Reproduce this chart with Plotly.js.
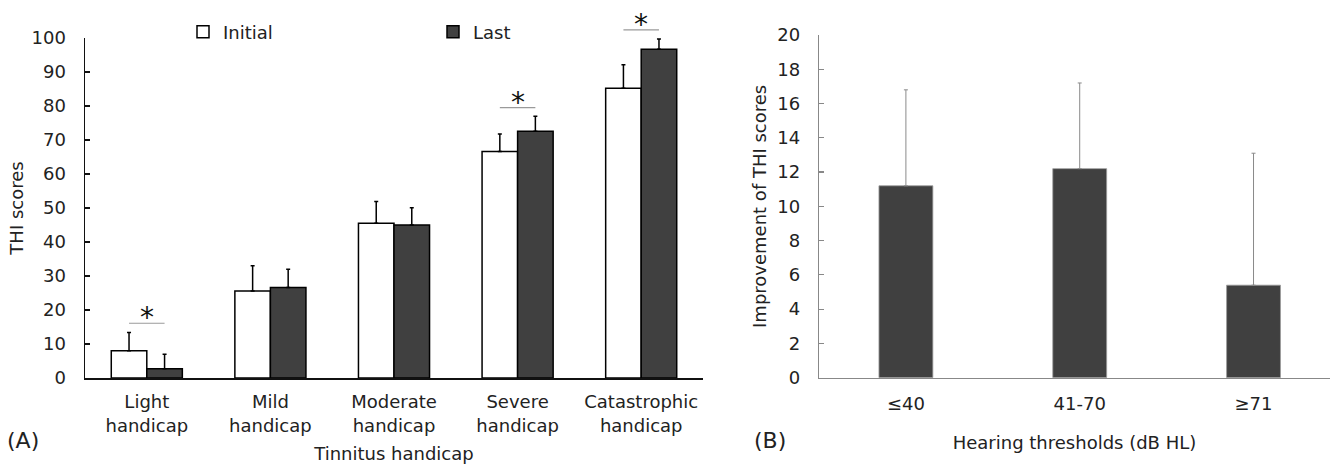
<!DOCTYPE html>
<html><head><meta charset="utf-8">
<script src="https://cdn.plot.ly/plotly-3.0.1.min.js"></script>
<style>html,body{margin:0;padding:0;background:#fff}</style>
</head><body><div id="chart" style="width:1330px;height:464px"></div>
<script>
const handicapCats = ['Light<br>handicap','Mild<br>handicap','Moderate<br>handicap','Severe<br>handicap','Catastrophic<br>handicap'];
const initialScores = [8.0, 25.6, 45.5, 66.6, 85.2];
const initialErr = [5.4, 7.4, 6.4, 5.2, 6.9];
const lastScores = [2.7, 26.6, 45.0, 72.6, 96.7];
const lastErr = [4.3, 5.4, 5.1, 4.4, 3.0];
const noMinus5 = [0, 0, 0, 0, 0];
const sigLevel = [16.1, null, null, 79.5, 102.4];
const hearingCats = ['≤40', '41-70', '≥71'];
const improvement = [11.2, 12.2, 5.4];
const improvementErr = [5.6, 5.0, 7.7];
const noMinus3 = [0, 0, 0];

const W = 1330, H = 464;
const FONT = 'DejaVu Sans, sans-serif';
const TXT = '#222';
const bargap = 0.425;
const yDomA = [(H - 378) / H, (H - 38) / H];
const yRangeA = [0, 100];
const yDomB = [(H - 377.7) / H, (H - 35) / H];

function yPaperA(v) {
  return yDomA[0] + (v - yRangeA[0]) / (yRangeA[1] - yRangeA[0]) * (yDomA[1] - yDomA[0]);
}

const traces = [
  {type: 'bar', name: 'Initial', x: handicapCats, y: initialScores, xaxis: 'x', yaxis: 'y',
   marker: {color: '#ffffff', line: {color: '#000', width: 1.5}},
   error_y: {type: 'data', array: initialErr, arrayminus: noMinus5, symmetric: false, color: '#000', thickness: 1.5, width: 2}},
  {type: 'bar', name: 'Last', x: handicapCats, y: lastScores, xaxis: 'x', yaxis: 'y',
   marker: {color: '#404040', line: {color: '#000', width: 1.5}},
   error_y: {type: 'data', array: lastErr, arrayminus: noMinus5, symmetric: false, color: '#000', thickness: 1.5, width: 2}},
  {type: 'bar', name: 'Improvement', x: hearingCats, y: improvement, xaxis: 'x2', yaxis: 'y2', width: 0.31, showlegend: false,
   marker: {color: '#404040', line: {color: '#9a9a9a', width: 0.8}},
   error_y: {type: 'data', array: improvementErr, arrayminus: noMinus3, symmetric: false, color: '#8a8a8a', thickness: 1, width: 2}}
];

const off = (1 - bargap) / 4;
const shapes = [];
const annotations = [];
sigLevel.forEach((v, i) => {
  if (v === null) return;
  shapes.push({type: 'line', xref: 'x', yref: 'paper', x0: i - off, x1: i + off, y0: yPaperA(v), y1: yPaperA(v),
    line: {color: '#9a9a9a', width: 1.2}});
  annotations.push({xref: 'x', yref: 'paper', x: i, y: yPaperA(v), text: '*', showarrow: false,
    yanchor: 'bottom', yshift: -13, font: {size: 28, color: '#111', family: FONT}});
});
annotations.push({xref: 'paper', yref: 'paper', x: 5 / W, y: (H - 440) / H, xanchor: 'left', yanchor: 'middle',
  text: '(A)', showarrow: false, font: {size: 22, color: TXT, family: FONT}});
annotations.push({xref: 'paper', yref: 'paper', x: 752 / W, y: (H - 440) / H, xanchor: 'left', yanchor: 'middle',
  text: '(B)', showarrow: false, font: {size: 22, color: TXT, family: FONT}});

const layout = {
  width: W, height: H,
  margin: {l: 0, r: 0, t: 0, b: 0},
  paper_bgcolor: '#fff', plot_bgcolor: '#fff',
  font: {family: FONT, size: 18, color: TXT},
  barmode: 'group', bargap: bargap, bargroupgap: 0,
  showlegend: true,
  legend: {orientation: 'h', x: 183 / W, xanchor: 'left', y: (H - 32) / H, yanchor: 'middle',
    entrywidth: 205, entrywidthmode: 'pixels', bgcolor: 'rgba(0,0,0,0)', font: {size: 18, color: TXT}},
  xaxis: {domain: [85 / W, 703 / W], anchor: 'y', type: 'category', range: [-0.5, 4.5],
    showline: true, linecolor: '#111', linewidth: 1.5, ticks: '', showgrid: false, zeroline: false,
    ticklabelstandoff: 7, tickfont: {size: 18}, title: {text: 'Tinnitus handicap', standoff: 20, font: {size: 18}}},
  yaxis: {domain: yDomA, anchor: 'x', range: yRangeA, dtick: 10, ticks: 'inside', ticklen: 5, tickwidth: 1.5,
    tickcolor: '#111', showline: true, linecolor: '#111', linewidth: 1.5, showgrid: false, zeroline: false,
    ticklabelstandoff: 14, tickfont: {size: 18}, title: {text: 'THI scores', standoff: 3, font: {size: 18}}},
  xaxis2: {domain: [819 / W, 1], anchor: 'y2', type: 'category', range: [-0.5, 2.44],
    showline: true, linecolor: '#888', linewidth: 1.2, ticks: '', showgrid: false, zeroline: false,
    ticklabelstandoff: 9, tickfont: {size: 18}, title: {text: 'Hearing thresholds (dB HL)', standoff: 23, font: {size: 18}}},
  yaxis2: {domain: yDomB, anchor: 'x2', range: [0, 20], dtick: 2, ticks: 'inside', ticklen: 5, tickwidth: 1.2,
    tickcolor: '#888', showline: true, linecolor: '#888', linewidth: 1.2, showgrid: false, zeroline: false,
    ticklabelstandoff: 14, tickfont: {size: 18}, title: {text: 'Improvement of THI scores', standoff: 6, font: {size: 18}}},
  shapes: shapes,
  annotations: annotations
};

Plotly.newPlot('chart', traces, layout, {staticPlot: true, displayModeBar: false});
</script>
</body></html>
